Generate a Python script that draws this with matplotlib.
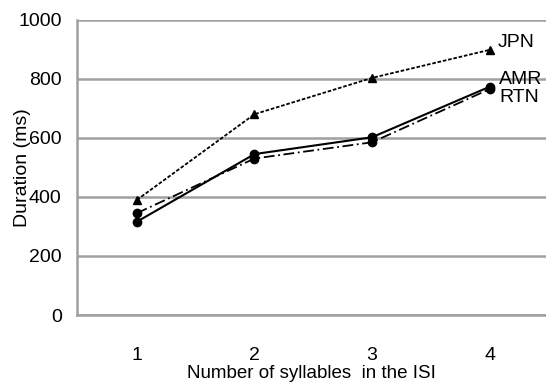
import matplotlib
matplotlib.use('Agg')
import matplotlib.pyplot as plt

syllables = [1, 2, 3, 4]
jpn = [390, 680, 803, 898]
amr = [316, 545, 602, 773]
rtn = [345, 530, 585, 765]

plt.rcParams['font.family'] = ['Liberation Sans', 'DejaVu Sans']

fig = plt.figure(figsize=(5.46, 3.87), dpi=100)
ax = fig.add_axes([0.141, 0.186, 0.859, 0.763])

ax.plot(syllables, jpn, color='black', linestyle=(0, (2, 1)), linewidth=1.3,
        marker='^', markersize=6, clip_on=False)
ax.plot(syllables, amr, color='black', linestyle='-', linewidth=1.5,
        marker='o', markersize=6)
ax.plot(syllables, rtn, color='black', linestyle=(0, (6, 2, 1, 2)), linewidth=1.3,
        marker='o', markersize=6)

ax.text(4.065, 922, 'JPN', fontsize=14, va='center')
ax.text(4.08, 797, 'AMR', fontsize=14, va='center')
ax.text(4.08, 737, 'RTN', fontsize=14, va='center')

ax.set_xlim(0.49, 4.48)
ax.set_ylim(0, 1000)
ax.set_xticks(syllables)
ax.set_yticks(range(0, 1001, 200))
ax.yaxis.grid(True, color='#a0a0a0', linewidth=1.8)
ax.set_axisbelow(True)
for side in ['top', 'right']:
    ax.spines[side].set_visible(False)
for side in ['left', 'bottom']:
    ax.spines[side].set_color('#a0a0a0')
    ax.spines[side].set_linewidth(1.8)
ax.tick_params(axis='y', length=0, labelsize=14, pad=11)
ax.tick_params(axis='x', length=0, labelsize=14, pad=23)

ax.set_xlabel('Number of syllables  in the ISI', fontsize=13.5, labelpad=1)
ax.set_ylabel('Duration (ms)', fontsize=14, labelpad=-9)

fig.savefig('out.png', dpi=100)
